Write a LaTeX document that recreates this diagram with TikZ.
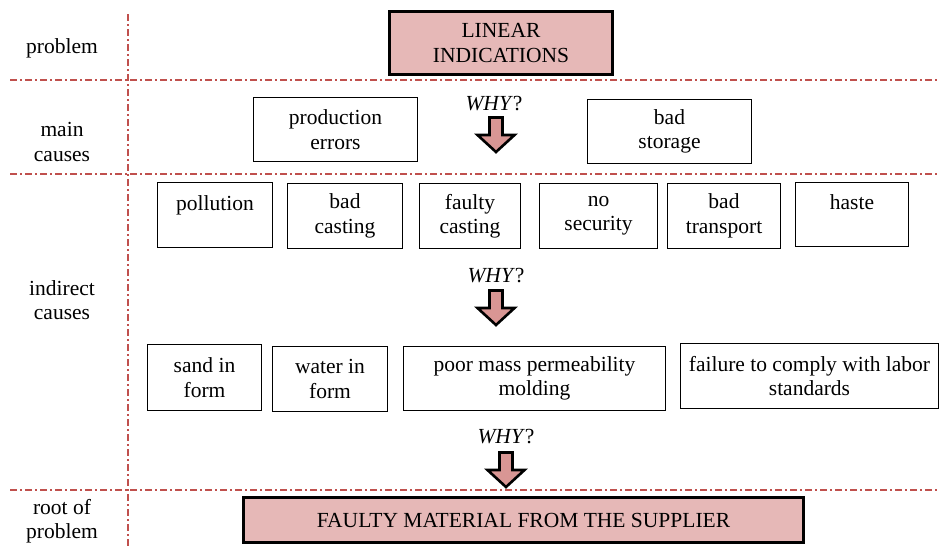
\documentclass[tikz,border=0pt]{standalone}
\usepackage{fontspec}
\setmainfont{Liberation Serif}

\definecolor{rowline}{HTML}{C0504D}
\definecolor{keyfill}{HTML}{E6B8B7}
\definecolor{arrowfill}{HTML}{D99694}

\tikzset{
    rowsep/.style={rowline, line width=1.2pt, dash pattern=on 7pt off 3pt on 2pt off 3pt},
    cause/.style={draw, line width=1.2pt, align=center, inner sep=0pt},
    keybox/.style={draw, line width=3pt, fill=keyfill, align=center, inner sep=0pt},
    rowlabel/.style={align=center, inner sep=0pt},
    whytext/.style={inner sep=0pt},
    whyarrow/.style={draw, line width=2.6pt, fill=arrowfill, line join=miter},
}

\begin{document}
\begin{tikzpicture}[x=1pt, y=-1pt, font=\fontsize{21.5}{24.5}\selectfont]
        \useasboundingbox (0,0) rectangle (940,546);
        %% Separators
        \draw[rowsep] (128,14) -- (128,546);
        \foreach \y in {80,174,490}
            \draw[rowsep] (10,\y) -- (940,\y);
        %% Row labels
        \node[rowlabel] (lproblem) at (62,48) {problem};
        \node[rowlabel] (lmain) at (62,142) {main\\causes};
        \node[rowlabel] (lindirect) at (62,300) {indirect\\causes};
        \node[rowlabel] (lroot) at (62,521) {root of\\problem};
        %% Problem
        \node[keybox, minimum width=223, minimum height=63] (problem) at (501,43)
            {LINEAR\\INDICATIONS};
        %% Main causes
        \node[cause, minimum width=164, minimum height=64] (production) at (335.5,129.5)
            {production\\errors};
        \node[cause, minimum width=164, minimum height=64] (storage) at (669.5,131.5)
            {bad\\storage};
        %% Indirect causes, first row
        \node[cause, minimum width=115, minimum height=65] (pollution) at (215,215)
            {pollution\\\mbox{}};
        \node[cause, minimum width=115, minimum height=65] (badcasting) at (345,216)
            {bad\\casting};
        \node[cause, minimum width=101, minimum height=65] (faultycasting) at (470,216)
            {faulty\\casting};
        \node[cause, minimum width=118, minimum height=65] (nosecurity) at (598.5,216)
            {no\\security};
        \node[cause, minimum width=113, minimum height=65] (transport) at (724,216)
            {bad\\transport};
        \node[cause, minimum width=113, minimum height=64] (haste) at (852,214.5)
            {haste\\\mbox{}};
        %% Indirect causes, second row
        \node[cause, minimum width=114, minimum height=66] (sand) at (204.5,377.5)
            {sand in\\form};
        \node[cause, minimum width=115, minimum height=65] (water) at (330,379)
            {water in\\form};
        \node[cause, minimum width=262, minimum height=64] (permeability) at (534.5,378.5)
            {poor mass permeability\\molding};
        \node[cause, minimum width=258, minimum height=65] (labor) at (809.5,376)
            {failure to comply with labor\\standards};
        %% Root
        \node[keybox, minimum width=560, minimum height=45] (root) at (523.5,520)
            {FAULTY MATERIAL FROM THE SUPPLIER};
        %% WHY? arrows
        \node[whytext] (why1) at (494,104) {\textit{WHY}?};
        \node[whytext] (why2) at (496,276) {\textit{WHY}?};
        \node[whytext] (why3) at (506,437) {\textit{WHY}?};
        \foreach \x/\y in {496/116, 496/289, 506/451}
            \draw[whyarrow] (\x-6.5,\y+1.5) -- (\x+6.5,\y+1.5) -- (\x+6.5,\y+19)
                -- (\x+18.5,\y+19) -- (\x,\y+36) -- (\x-18.5,\y+19)
                -- (\x-6.5,\y+19) -- cycle;
\end{tikzpicture}
\end{document}
